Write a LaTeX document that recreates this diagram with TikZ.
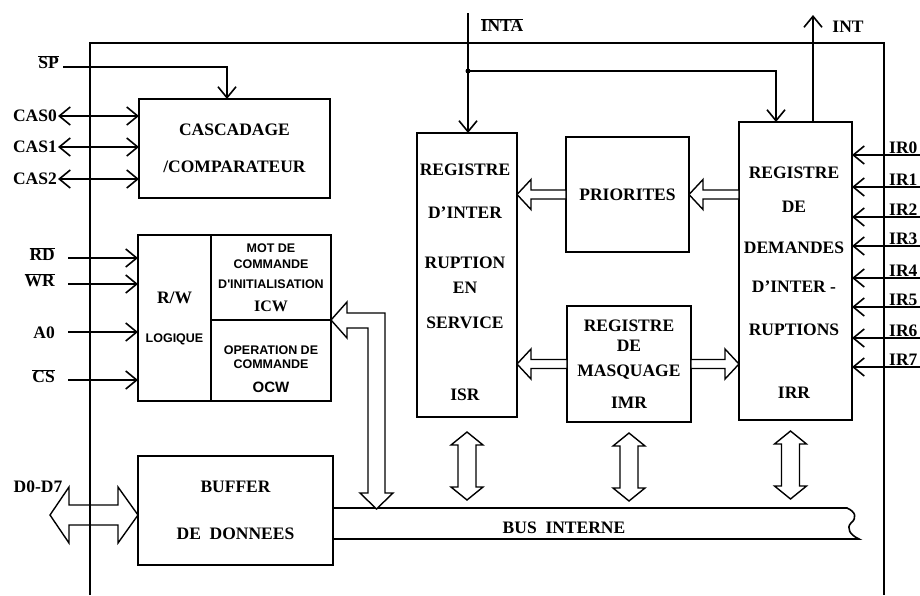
\documentclass[tikz,border=0pt]{standalone}
\usepackage{fontspec}
\setmainfont{Liberation Serif}
\newfontfamily\smallsans{Liberation Sans}
\usepackage{tikz}
\usetikzlibrary{positioning, arrows.meta}
\tikzset{
  block/.style={rectangle, draw=black, line width=1.6pt, anchor=north west, outer sep=0pt, align=center, font=\bfseries\fontsize{17.5}{20}\selectfont},
  small/.style={font=\smallsans\bfseries\fontsize{12.5}{16}\selectfont, align=center},
  lbl/.style={font=\bfseries\fontsize{17.5}{20}\selectfont, inner sep=1pt, align=center},
  wire/.style={line width=1.6pt},
  arrow/.style={wire, -{Straight Barb[length=11pt, width=18pt]}},
  dblarrow/.style={wire, {Straight Barb[length=11pt, width=18pt]}-{Straight Barb[length=11pt, width=18pt]}},
  fat/.style={line width=1.4pt, fill=white, line join=miter},
  pics/fatone/.style={code={
    \draw[fat] (0,0) -- (-14,-15) -- (-14,-4.5) -- (-#1,-4.5) -- (-#1,4.5) -- (-14,4.5) -- (-14,15) -- cycle;
  }},
  pics/fattwo/.style={code={
    \draw[fat] ({-#1/2},0) -- ({-#1/2+13},-16) -- ({-#1/2+13},-9) -- ({#1/2-13},-9) -- ({#1/2-13},-16) -- ({#1/2},0)
      -- ({#1/2-13},16) -- ({#1/2-13},9) -- ({-#1/2+13},9) -- ({-#1/2+13},16) -- cycle;
  }},
}
\newcommand{\ovl}[1]{$\overline{\mbox{#1}}$}

\begin{document}
\begin{tikzpicture}[x=1pt, y=-1pt]
  \useasboundingbox (0,0) rectangle (920,595);

  % blocks
  \node[block, minimum width=191pt, minimum height=99pt] (casc) at (139,99) {CASCADAGE\\[17pt]/COMPARATEUR};
  \node[block, minimum width=73pt, minimum height=166pt] (rwlog) at (138,235) {R/W\\[19pt]{\smallsans\fontsize{12.5}{16}\selectfont LOGIQUE}};
  \node[block, small, minimum width=120pt, minimum height=85pt] (icw) at (211,235) {MOT DE\\COMMANDE\\[4pt]D'INITIALISATION\\[7pt]{\rmfamily\fontsize{16}{16}\selectfont ICW}};
  \node[block, minimum width=120pt, minimum height=81pt] (ocw) at (211,320) {};
  \node[small] (ocwtxt) at ([yshift=-8.5pt]ocw.center) {OPERATION DE\\[-2pt]COMMANDE\\[8pt]{\fontsize{15}{16}\selectfont OCW}};
  \node[block, minimum width=195pt, minimum height=109pt] (buf) at (138,456) {BUFFER\\[27pt]DE\ \ DONNEES};

  \node[block, minimum width=100pt, minimum height=284pt] (isr) at (417,133) {};
  \node[lbl] (isrtxt) at (465,282.5) {REGISTRE\\[23pt]D'INTER\\[30pt]RUPTION\\[5pt]EN\\[15pt]SERVICE\\[52pt]ISR};
  \node[block, minimum width=123pt, minimum height=115pt] (prio) at (566,137) {PRIORITES};
  \node[block, minimum width=124pt, minimum height=116pt] (imr) at (567,306) {REGISTRE\\DE\\[5pt]MASQUAGE\\[12pt]IMR};
  \node[block, minimum width=113pt, minimum height=298pt] (irr) at (739,122) {};
  \node[lbl] (irrtxt) at (794,283) {REGISTRE\\[14pt]DE\\[21pt]DEMANDES\\[19pt]D'INTER -\\[23pt]RUPTIONS\\[43pt]IRR};

  % internal bus
  \coordinate (bustop) at (333,508);
  \coordinate (busbot) at (333,539);
  \draw[wire] (bustop) -- (847,508) .. controls (856,512) and (857,518) .. (851,523)
    .. controls (846,528) and (850,535) .. (859,539) -- (busbot);
  \node[lbl] (bus) at (564,528) {BUS\ \ INTERNE};

  % fat arrows
  \pic[rotate=180] at (isr.east |- prio.west) {fatone=49};
  \pic[rotate=180] at (prio.east) {fatone=50};
  \pic[rotate=180] at (isr.east |- imr.west) {fatone=50};
  \pic at (irr.west |- imr.east) {fatone=48};
  \pic[rotate=90] at ([yshift=-49pt]isr.south) {fattwo=68};
  \pic[rotate=90] at ([yshift=-45pt]imr.south) {fattwo=68};
  \pic[rotate=90] at ([xshift=-5pt, yshift=-45pt]irr.south) {fattwo=68};
  \draw[fat] (icw.south east) -- ++(16,-18) -- ++(0,11) -- ++(38,0) -- ++(0,180) -- ++(8,0) -- ++(-16.5,16)
    -- ++(-16.5,-16) -- ++(8,0) -- ++(0,-165) -- ++(-21,0) -- ++(0,10) -- cycle;
  \coordinate (dtip) at (50,515);
  \draw[fat] (dtip) -- ++(19,-28) -- ++(0,18) -- ++(49,0) -- ++(0,-18) -- (dtip -| buf.west) -- ++(-20,28)
    -- ++(0,-18) -- ++(-49,0) -- ++(0,18) -- cycle;
  \node[lbl] (dlbl) at (38,487) {D0-D7};

  % left side signals
  \node[lbl, anchor=east] (sp) at (60,62) {\ovl{SP}};
  \coordinate (spin) at (63,67);
  \draw[arrow] (spin) -| ([xshift=-7.5pt]casc.north);
  \foreach \k/\y in {0/116, 1/147, 2/179} {
    \node[lbl, anchor=east] (cas\k) at (58,\y) {CAS\k};
    \draw[dblarrow] (cas\k.east) -- (cas\k.east -| casc.west);
  }
  \foreach \s/\t/\y in {rd/RD/258, wr/WR/284, cs/CS/380} {
    \node[lbl, anchor=east] (\s) at (56,\y-4) {\ovl{\t}};
    \coordinate (\s in) at (68,\y);
    \draw[arrow] (\s in) -- (\s in -| rwlog.west);
  }
  \node[lbl, anchor=east] (a0) at (56,333) {A0};
  \coordinate (a0in) at (68,332);
  \draw[arrow] (a0in) -- (a0in -| rwlog.west);

  % top signals
  \node[lbl] (inta) at (502,25) {\ovl{INTA}};
  \coordinate (intain) at (468,13);
  \coordinate (jn) at (468,71);
  \draw[arrow] (intain) -- (intain |- isr.north);
  \fill (jn) circle (2.5);
  \draw[arrow] (jn) -| ([xshift=-19.5pt]irr.north);
  \node[lbl] (int) at (848,27) {INT};
  \coordinate (intout) at (813,15);
  \draw[arrow] (intout |- irr.north) -- (intout);

  % interrupt requests
  \foreach \i/\y in {0/155, 1/187, 2/217, 3/246, 4/278, 5/307, 6/338, 7/367} {
    \coordinate (ir\i in) at (920,\y);
    \node[lbl, anchor=base west, inner sep=0pt] (ir\i) at (889,\y-2) {IR\i};
    \draw[arrow] (ir\i in) -- (ir\i in -| irr.east);
  }

  % chip outline
  \draw[wire] (90,595) -- (90,43) -- (884,43) -- (884,595);
\end{tikzpicture}
\end{document}
